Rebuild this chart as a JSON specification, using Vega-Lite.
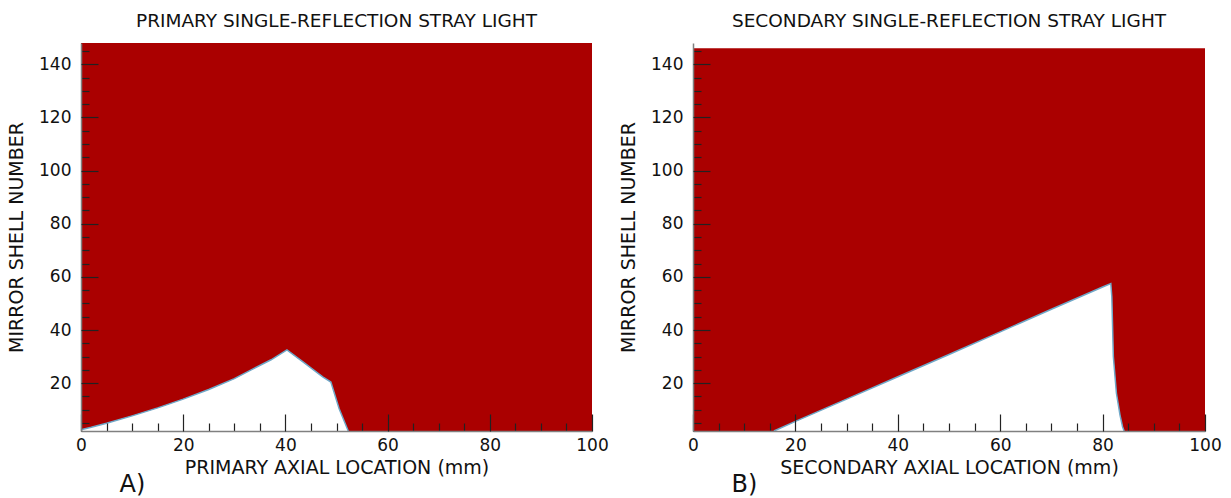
{
  "$schema": "https://vega.github.io/schema/vega-lite/v6.json",
  "background": "white",
  "padding": {"left": 7, "top": 11, "right": 5, "bottom": 2},
  "spacing": 10,
  "config": {
    "view": {"stroke": null},
    "font": "DejaVu Sans",
    "axis": {
      "grid": false,
      "tickColor": "#222",
      "tickWidth": 1.2,
      "domainColor": "#808080",
      "domainWidth": 1.5,
      "labelFont": "DejaVu Sans",
      "labelFontSize": 17,
      "labelColor": "#111",
      "labelFlush": false,
      "labelOverlap": false,
      "titleFont": "DejaVu Sans",
      "titleFontSize": 19,
      "titleFontWeight": "normal",
      "titleColor": "#111"
    },
    "title": {"font": "DejaVu Sans", "fontWeight": "normal", "color": "#111"}
  },
  "datasets": {
    "fieldA": [{"x0": 0, "x1": 100, "y0": 2, "y1": 148}],
    "fieldB": [{"x0": 0, "x1": 100, "y0": 2, "y1": 146}],
    "boundaryA": [
      {"x": 0, "y": 2.5}, {"x": 2, "y": 3.4}, {"x": 5, "y": 4.9}, {"x": 10, "y": 7.7},
      {"x": 15, "y": 10.7}, {"x": 20, "y": 14}, {"x": 25, "y": 17.6}, {"x": 30, "y": 21.7},
      {"x": 33.3, "y": 25}, {"x": 37.2, "y": 28.8}, {"x": 40.3, "y": 32.5}, {"x": 43.7, "y": 27.6},
      {"x": 47.3, "y": 22.4}, {"x": 48.9, "y": 20.4}, {"x": 50.5, "y": 10.5}, {"x": 52.3, "y": 2}
    ],
    "boundaryB": [
      {"x": 15.8, "y": 2}, {"x": 20, "y": 5.6}, {"x": 30, "y": 14}, {"x": 40, "y": 22.4},
      {"x": 50, "y": 30.8}, {"x": 60, "y": 39.3}, {"x": 70, "y": 47.8}, {"x": 80, "y": 56.2},
      {"x": 81.6, "y": 57.5}, {"x": 81.8, "y": 52.5}, {"x": 82.1, "y": 30}, {"x": 82.7, "y": 16.2},
      {"x": 83.4, "y": 8}, {"x": 83.9, "y": 3.6}, {"x": 84.2, "y": 2}
    ]
  },
  "hconcat": [
    {
      "title": {"text": "A)", "orient": "bottom", "anchor": "start", "fontSize": 24, "dx": 112, "offset": -4},
      "vconcat": [
        {
          "width": 511,
          "height": 388,
          "title": {"text": "PRIMARY SINGLE-REFLECTION STRAY LIGHT", "fontSize": 18.5, "offset": 13},
          "resolve": {"axis": {"x": "independent", "y": "independent"}},
          "layer": [
            {
              "data": {"name": "fieldA"},
              "mark": {"type": "rect", "color": "#aa0000"},
              "encoding": {
                "x": {"field": "x0", "type": "quantitative",
                      "scale": {"domain": [0, 100], "nice": false, "zero": false},
                      "axis": {"zindex": 1, "orient": "bottom", "title": null, "labels": false, "tickSize": -8, "values": [5,10,15,25,30,35,45,50,55,65,70,75,85,90,95]}},
                "x2": {"field": "x1"},
                "y": {"field": "y0", "type": "quantitative",
                      "scale": {"domain": [2, 148], "nice": false, "zero": false},
                      "axis": {"zindex": 1, "orient": "left", "title": null, "labels": false, "tickSize": -8, "values": [5,10,15,25,30,35,45,50,55,65,70,75,85,90,95,105,110,115,125,130,135,145]}},
                "y2": {"field": "y1"}
              }
            },
            {
              "data": {"name": "boundaryA"},
              "mark": {"type": "area", "color": "white"},
              "encoding": {
                "x": {"field": "x", "type": "quantitative",
                      "axis": {"zindex": 1, "orient": "bottom", "title": "PRIMARY AXIAL LOCATION (mm)", "domain": false, "tickSize": -17, "labelPadding": 23, "titlePadding": 5, "values": [0,20,40,60,80,100]}},
                "y": {"field": "y", "type": "quantitative",
                      "axis": {"zindex": 1, "orient": "left", "title": "MIRROR SHELL NUMBER", "domain": false, "tickSize": -17, "labelPadding": 27, "titlePadding": 12, "values": [20,40,60,80,100,120,140]}},
                "y2": {"datum": 2}
              }
            },
            {
              "data": {"name": "boundaryA"},
              "mark": {"type": "line", "color": "#6fa8c8", "strokeWidth": 1.5},
              "encoding": {
                "x": {"field": "x", "type": "quantitative", "axis": null},
                "y": {"field": "y", "type": "quantitative", "axis": null}
              }
            }
          ]
        }
      ]
    },
    {
      "title": {"text": "B)", "orient": "bottom", "anchor": "start", "fontSize": 24, "dx": 112, "offset": -4},
      "vconcat": [
        {
          "width": 512,
          "height": 388,
          "title": {"text": "SECONDARY SINGLE-REFLECTION STRAY LIGHT", "fontSize": 18.5, "offset": 13},
          "resolve": {"axis": {"x": "independent", "y": "independent"}},
          "layer": [
            {
              "data": {"name": "fieldB"},
              "mark": {"type": "rect", "color": "#aa0000"},
              "encoding": {
                "x": {"field": "x0", "type": "quantitative",
                      "scale": {"domain": [0, 100], "nice": false, "zero": false},
                      "axis": {"zindex": 1, "orient": "bottom", "title": null, "labels": false, "tickSize": -8, "values": [5,10,15,25,30,35,45,50,55,65,70,75,85,90,95]}},
                "x2": {"field": "x1"},
                "y": {"field": "y0", "type": "quantitative",
                      "scale": {"domain": [2, 148], "nice": false, "zero": false},
                      "axis": {"zindex": 1, "orient": "left", "title": null, "labels": false, "tickSize": -8, "values": [5,10,15,25,30,35,45,50,55,65,70,75,85,90,95,105,110,115,125,130,135,145]}},
                "y2": {"field": "y1"}
              }
            },
            {
              "data": {"name": "boundaryB"},
              "mark": {"type": "area", "color": "white"},
              "encoding": {
                "x": {"field": "x", "type": "quantitative",
                      "axis": {"zindex": 1, "orient": "bottom", "title": "SECONDARY AXIAL LOCATION (mm)", "domain": false, "tickSize": -17, "labelPadding": 23, "titlePadding": 5, "values": [0,20,40,60,80,100]}},
                "y": {"field": "y", "type": "quantitative",
                      "axis": {"zindex": 1, "orient": "left", "title": "MIRROR SHELL NUMBER", "domain": false, "tickSize": -17, "labelPadding": 27, "titlePadding": 12, "values": [20,40,60,80,100,120,140]}},
                "y2": {"datum": 2}
              }
            },
            {
              "data": {"name": "boundaryB"},
              "mark": {"type": "line", "color": "#6fa8c8", "strokeWidth": 1.5},
              "encoding": {
                "x": {"field": "x", "type": "quantitative", "axis": null},
                "y": {"field": "y", "type": "quantitative", "axis": null}
              }
            }
          ]
        }
      ]
    }
  ]
}
